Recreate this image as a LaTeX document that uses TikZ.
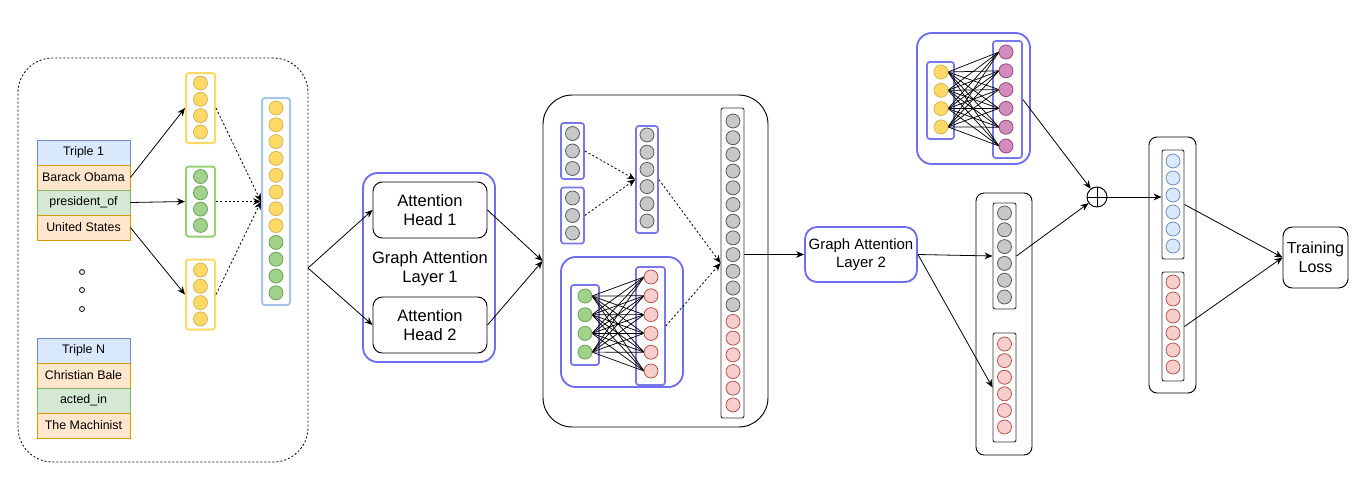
\documentclass[tikz,border=0pt]{standalone}
\usepackage{fontspec}
\setmainfont{Liberation Sans}
\usepackage{tikz}
\usetikzlibrary{arrows.meta}

\begin{document}
\begin{tikzpicture}[x=0.75pt,y=0.75pt,yscale=-1,xscale=1,
  arr/.style={draw, line width=0.6pt, -{Stealth[length=6pt,width=5pt]}},
  darr/.style={arr, dash pattern={on 1.6pt off 1.6pt}},
  cyel/.style={draw={rgb, 255:red, 214; green, 182; blue, 86 }, fill={rgb, 255:red, 255; green, 217; blue, 102 }, line width=0.6pt},
  cgrn/.style={draw={rgb, 255:red, 110; green, 160; blue, 90 }, fill={rgb, 255:red, 160; green, 210; blue, 140 }, line width=0.6pt},
  cgry/.style={draw={rgb, 255:red, 90; green, 90; blue, 90 }, fill={rgb, 255:red, 200; green, 200; blue, 200 }, line width=0.6pt},
  cred/.style={draw={rgb, 255:red, 184; green, 84; blue, 80 }, fill={rgb, 255:red, 248; green, 206; blue, 204 }, line width=0.6pt},
  cblu/.style={draw={rgb, 255:red, 108; green, 142; blue, 191 }, fill={rgb, 255:red, 218; green, 232; blue, 252 }, line width=0.6pt},
  cpur/.style={draw={rgb, 255:red, 150; green, 70; blue, 130 }, fill={rgb, 255:red, 210; green, 140; blue, 190 }, line width=0.6pt},
  col/.style={draw, rounded corners=2pt, inner sep=0pt, line width=1.5pt},
  dcol/.style={draw={rgb, 255:red, 50; green, 50; blue, 50 }, rounded corners=1.5pt, inner sep=0pt, line width=0.7pt},
  bcol/.style={col, draw={rgb, 255:red, 120; green, 120; blue, 235 }},
  gat/.style={draw={rgb, 255:red, 110; green, 110; blue, 240 }, rounded corners=11pt, inner sep=0pt, line width=1.4pt},
  rbox/.style={draw, rounded corners=7pt, inner sep=0pt, line width=0.7pt, align=center},
  trow/.style={draw, inner sep=0pt, minimum width=69.75pt, minimum height=18.75pt, font=\fontsize{9.3}{10}\selectfont, line width=0.6pt},
  thead/.style={trow, draw={rgb, 255:red, 108; green, 142; blue, 191 }, fill={rgb, 255:red, 218; green, 232; blue, 252 }},
  tent/.style={trow, draw={rgb, 255:red, 215; green, 155; blue, 0 }, fill={rgb, 255:red, 255; green, 230; blue, 204 }},
  trel/.style={trow, draw={rgb, 255:red, 130; green, 179; blue, 102 }, fill={rgb, 255:red, 213; green, 232; blue, 212 }},
  edge/.style={line width=0.55pt}
  ]
\useasboundingbox (0,0) rectangle (1357,483);

%Left panel: triples and embeddings
\node (lb) [draw, dash pattern={on 1.5pt off 1.5pt}, line width=0.6pt, rounded corners=26pt, minimum width=217.5pt, minimum height=303pt] at (163,260) {};
\node (t1h) [thead] at (83.5,152.5) {Triple 1};
\node (t1e) [tent] at (83.5,177.5) {Barack Obama};
\node (t1r) [trel] at (83.5,202.5) {president\_of};
\node (t1t) [tent] at (83.5,227.5) {United States};
\node (tnh) [thead] at (83.5,350.5) {Triple N};
\node (tne) [tent] at (83.5,375.5) {Christian Bale};
\node (tnr) [trel] at (83.5,400.5) {acted\_in};
\node (tnt) [tent] at (83.5,425.5) {The Machinist};
\foreach \y in {272,290,309} \draw[line width=0.6pt] (82,\y) circle (2.5);

\node (yt) [col, draw={rgb, 255:red, 255; green, 217; blue, 102 }, minimum width=21.75pt, minimum height=52.5pt] at (200.5,108) {};
\node (gm) [col, draw={rgb, 255:red, 151; green, 208; blue, 119 }, minimum width=21.75pt, minimum height=52.5pt] at (200.5,201.5) {};
\node (yb) [col, draw={rgb, 255:red, 255; green, 217; blue, 102 }, minimum width=21.75pt, minimum height=52.5pt] at (200.5,294.5) {};
\node (bc) [col, draw={rgb, 255:red, 169; green, 196; blue, 235 }, minimum width=21pt, minimum height=155.25pt] at (276,201.5) {};
\foreach \i in {0,...,3} {
  \draw[cyel] (200.5,83+\i*16.3) circle (7);
  \draw[cgrn] (200.5,176.5+\i*16.3) circle (7);
  \draw[cyel] (200.5,270+\i*16.3) circle (7);
}
\foreach \i in {0,...,11} {
  \ifnum\i<8 \draw[cyel] (276,108+\i*16.8) circle (7);
  \else \draw[cgrn] (276,108+\i*16.8) circle (7); \fi
}

%Straight Lines: triple to embeddings
\draw[arr] (t1e.east) -- (yt.west);
\draw[arr] (t1r.east) -- (gm.west);
\draw[arr] (t1t.east) -- (yb.west);
\draw[darr] (yt.east) -- (bc.west);
\draw[darr] (gm.east) -- (bc.west);
\draw[darr] (yb.east) -- (bc.west);

%Graph Attention Layer 1
\node (g1) [gat, minimum width=99pt, minimum height=141.75pt] at (429,267.5) {};
\node (h1) [rbox, minimum width=85.5pt, minimum height=42pt, font=\fontsize{12.4}{14.5}\selectfont] at (430,210) {Attention\\Head 1};
\node (h2) [rbox, minimum width=85.5pt, minimum height=42pt, font=\fontsize{12.4}{14.5}\selectfont] at (430,325) {Attention\\Head 2};
\node (g1t) [align=center, font=\fontsize{12.4}{14.5}\selectfont] at (430,269) {Graph Attention\\Layer 1};
\coordinate (sp) at (308,268);
\draw[arr] (sp) -- (h1.west);
\draw[arr] (sp) -- (h2.west);

%Middle panel
\node (mb) [rbox, rounded corners=22pt, minimum width=168.75pt, minimum height=249pt] at (655.5,261) {};
\draw[arr] (h1.east) -- (mb.west);
\draw[arr] (h2.east) -- (mb.west);
\node (c1) [bcol, line width=1.3pt, minimum width=17.25pt, minimum height=42pt] at (572.5,151) {};
\node (c2) [bcol, line width=1.3pt, minimum width=17.25pt, minimum height=42pt] at (572.5,215.5) {};
\node (c3) [bcol, line width=1.3pt, minimum width=16.5pt, minimum height=80.25pt] at (647,179.5) {};
\foreach \i in {0,...,2} {
  \draw[cgry] (572.5,133.5+\i*17.5) circle (7);
  \draw[cgry] (572.5,198+\i*17.5) circle (7);
}
\foreach \i in {0,...,5} \draw[cgry] (647,135+\i*17.2) circle (7);
\draw[darr] (c1.east) -- (c3.west);
\draw[darr] (c2.east) -- (c3.west);

\node (sb) [gat, rounded corners=11pt, minimum width=91.5pt, minimum height=97.5pt] at (622,322) {};
\node (gc2) [bcol, line width=1.3pt, minimum width=21pt, minimum height=60pt] at (585,325) {};
\node (rc2) [bcol, line width=1.3pt, minimum width=21.75pt, minimum height=88.5pt] at (650.5,326) {};
\foreach \i in {0,...,3}
  \foreach \j in {0,...,5}
    \draw[edge] (592,296+\i*18.7) -- (644,277+\j*18.8);
\foreach \i in {0,...,3} \draw[cgrn] (585,296+\i*18.7) circle (7);
\foreach \j in {0,...,5} \draw[cred] (651,277+\j*18.8) circle (7);

\node (tc) [dcol, minimum width=17.25pt, minimum height=232.5pt] at (732.5,263) {};
\foreach \i in {0,...,17} {
  \ifnum\i<12 \draw[cgry] (733,121+\i*16.7) circle (7);
  \else \draw[cred] (733,121+\i*16.7) circle (7); \fi
}
\draw[darr] (c3.east) -- (tc.west);
\draw[darr] (rc2.east) -- (tc.west);

%Graph Attention Layer 2
\node (g2) [gat, rounded corners=9pt, minimum width=84pt, minimum height=41.25pt, align=center, font=\fontsize{11.2}{13}\selectfont] at (861,254.5) {Graph Attention\\Layer 2};
\draw[arr] (tc.east |- g2.west) -- (g2.west);

%Relation embeddings (top right)
\node (tb) [gat, minimum width=84.75pt, minimum height=98.25pt] at (973.5,98.5) {};
\node (yc3) [bcol, line width=1.3pt, minimum width=20.25pt, minimum height=57.75pt] at (940.5,100.5) {};
\node (pc) [bcol, line width=1.3pt, minimum width=21.75pt, minimum height=87.75pt] at (1007.5,99.5) {};
\foreach \i in {0,...,3}
  \foreach \j in {0,...,5}
    \draw[edge] (948,72+\i*18.3) -- (999,52+\j*18.8);
\foreach \i in {0,...,3} \draw[cyel] (941,72+\i*18.3) circle (7);
\foreach \j in {0,...,5} \draw[cpur] (1006,52+\j*18.8) circle (7);

%Entity embeddings after layer 2
\node (mr) [rbox, rounded corners=6pt, minimum width=42pt, minimum height=196.5pt] at (1004,324) {};
\node (gc4) [dcol, minimum width=17.25pt, minimum height=79.5pt] at (1004.5,256) {};
\node (rc4) [dcol, minimum width=17.25pt, minimum height=81.75pt] at (1004.5,387.5) {};
\foreach \i in {0,...,5} {
  \draw[cgry] (1004.5,213+\i*16.8) circle (7);
  \draw[cred] (1004.5,344+\i*16.6) circle (7);
}
\draw[arr] (g2.east) -- (gc4.west);
\draw[arr] (g2.east) -- (rc4.west);

%Sum
\node (op) [draw, circle, line width=0.7pt, minimum size=15pt, inner sep=0pt] at (1097,197) {};
\draw[line width=0.7pt] (op.north) -- (op.south) (op.west) -- (op.east);
\draw[arr] (pc.east) -- (op);
\draw[arr] (gc4.east) -- (op);

%Final embeddings
\node (rb) [rbox, rounded corners=6pt, minimum width=35.25pt, minimum height=192pt] at (1172.5,265) {};
\node (bc5) [dcol, minimum width=16.5pt, minimum height=81.75pt] at (1173,204.5) {};
\node (rc5) [dcol, minimum width=16.5pt, minimum height=81.75pt] at (1173,326.5) {};
\foreach \i in {0,...,5} {
  \draw[cblu] (1173,161+\i*17) circle (7);
  \draw[cred] (1173,282+\i*17) circle (7);
}
\draw[arr] (op.east) -- (op.east -| bc5.west);

%Training Loss
\node (tl) [rbox, minimum width=48.75pt, minimum height=45.75pt, font=\fontsize{12}{14}\selectfont] at (1315.5,257.5) {Training\\Loss};
\draw[arr] (bc5.east) -- (tl.west);
\draw[arr] (rc5.east) -- (tl.west);

\end{tikzpicture}
\end{document}
